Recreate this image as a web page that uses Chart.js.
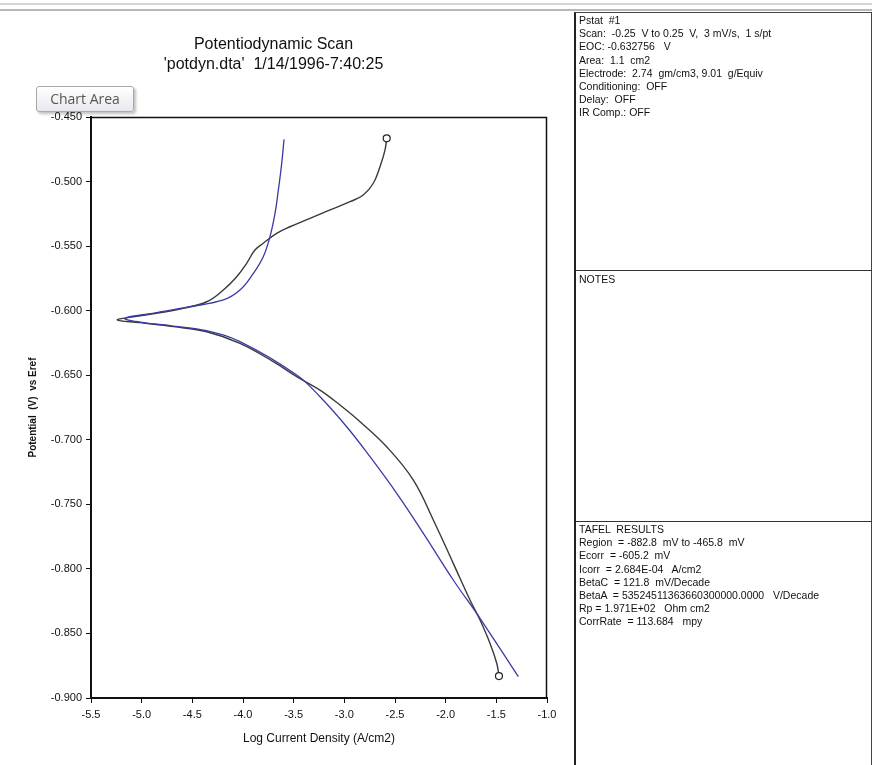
<!DOCTYPE html>
<html>
<head>
<meta charset="utf-8">
<script src="https://cdn.jsdelivr.net/npm/chart.js@4.4.1/dist/chart.umd.min.js"></script>
<style>
  body { margin: 0; background: #fff; font-family: "Liberation Sans", Arial, sans-serif; }
  #wrap { position: relative; width: 872px; height: 765px; overflow: hidden; background: #fff; }
  #topbar1 { position: absolute; left: 0; top: 3px; width: 872px; height: 2px; background: #d4d4d4; }
  #topbar2 { position: absolute; left: 0; top: 9px; width: 872px; height: 2px; background: #b8b8b8; }
  #cv { position: absolute; left: 0; top: 12px; }
  #panel { position: absolute; left: 574px; top: 12px; width: 295px; height: 753px;
           border-left: 2px solid #222; border-right: 1px solid #444; border-top: 1px solid #444; }
  .box { position: absolute; left: 0; width: 295px; font-size: 10.5px; line-height: 13.2px; color: #111;
         padding-left: 3px; white-space: pre; }
  #b1 { top: 1px; height: 256px; border-bottom: 1px solid #333; }
  #b2 { top: 258px; height: 248px; border-bottom: 1px solid #333; padding-top: 2px; }
  #b3 { top: 508px; padding-top: 2px; }
  #tip { position: absolute; left: 36px; top: 86px; width: 96px; height: 24px; border: 1px solid #a9a9a9;
         border-radius: 3px; background: linear-gradient(#ffffff, #e8e8ee); box-shadow: 2px 2px 3px rgba(0,0,0,0.25);
         font-family: "Open Sans", "DejaVu Sans", sans-serif; font-size: 14px; color: #575757; text-align: center; line-height: 24px; }
</style>
</head>
<body>
<div id="wrap">
  <div id="topbar1"></div>
  <div id="topbar2"></div>
  <canvas id="cv" width="575" height="753"></canvas>
  <div id="panel">
    <div class="box" id="b1"></div>
    <div class="box" id="b2"></div>
    <div class="box" id="b3"></div>
  </div>
  <div id="tip">Chart Area</div>
</div>
<script>
// measured curve (log current density, potential)
var medidoLogI = [-1.474, -1.496, -1.562, -1.661, -1.760, -1.925, -2.122, -2.319, -2.582, -2.845, -3.043, -3.240, -3.470, -3.701, -4.030, -4.358, -4.688, -5.016, -5.240, -5.083, -4.852, -4.589, -4.358, -4.194, -4.062, -3.964, -3.882, -3.800, -3.668, -3.536, -3.339, -3.141, -2.944, -2.813, -2.714, -2.648, -2.599, -2.582];
var medidoE = [-0.8830, -0.8731, -0.8577, -0.8396, -0.8241, -0.7957, -0.7621, -0.7312, -0.7054, -0.6860, -0.6731, -0.6615, -0.6511, -0.6395, -0.6253, -0.6163, -0.6124, -0.6093, -0.6072, -0.6047, -0.6020, -0.5982, -0.5931, -0.5840, -0.5737, -0.5633, -0.5530, -0.5478, -0.5401, -0.5350, -0.5285, -0.5220, -0.5156, -0.5104, -0.5013, -0.4885, -0.4756, -0.4665];

// tafel fit curve
var ajusteLogI = [-1.283, -1.661, -1.925, -2.220, -2.483, -2.747, -2.977, -3.240, -3.470, -4.030, -4.358, -4.688, -5.016, -5.164, -4.852, -4.523, -4.194, -4.030, -3.898, -3.800, -3.734, -3.684, -3.651, -3.618, -3.595];
var ajusteE = [-0.8835, -0.8383, -0.8086, -0.7725, -0.7415, -0.7131, -0.6899, -0.6667, -0.6498, -0.6240, -0.6155, -0.6119, -0.6088, -0.6059, -0.6016, -0.5969, -0.5917, -0.5840, -0.5711, -0.5582, -0.5427, -0.5246, -0.5065, -0.4859, -0.4673];

var tituloGrafico = ["Potentiodynamic Scan", "'potdyn.dta'  1/14/1996-7:40:25"];
var tituloX = 'Log Current Density (A/cm2)';
var tituloY = 'Potential  (V)  vs Eref';

var textoSetup = [
  'Pstat  #1',
  'Scan:  -0.25  V to 0.25  V,  3 mV/s,  1 s/pt',
  'EOC: -0.632756   V',
  'Area:  1.1  cm2',
  'Electrode:  2.74  gm/cm3, 9.01  g/Equiv',
  'Conditioning:  OFF',
  'Delay:  OFF',
  'IR Comp.: OFF'
];
var textoNotas = ['NOTES'];
var textoTafel = [
  'TAFEL  RESULTS',
  'Region  = -882.8  mV to -465.8  mV',
  'Ecorr  = -605.2  mV',
  'Icorr  = 2.684E-04   A/cm2',
  'BetaC  = 121.8  mV/Decade',
  'BetaA  = 53524511363660300000.0000   V/Decade',
  'Rp = 1.971E+02   Ohm cm2',
  'CorrRate  = 113.684   mpy'
];

document.getElementById('b1').textContent = textoSetup.join('\n');
document.getElementById('b2').textContent = textoNotas.join('\n');
document.getElementById('b3').textContent = textoTafel.join('\n');

function pontos(xs, ys) {
  var r = [];
  for (var i = 0; i < xs.length; i++) r.push({ x: xs[i], y: ys[i] });
  return r;
}

// moldura superior e direita da area do grafico
var moldura = {
  id: 'moldura',
  afterDraw: function (chart) {
    var a = chart.chartArea, ctx = chart.ctx;
    ctx.save();
    ctx.strokeStyle = '#111';
    ctx.lineWidth = 1.5;
    ctx.beginPath();
    ctx.moveTo(a.left, a.top + 0.5);
    ctx.lineTo(a.right - 0.5, a.top + 0.5);
    ctx.lineTo(a.right - 0.5, a.bottom);
    ctx.stroke();
    ctx.restore();
  }
};

var fonteTick = { family: 'Liberation Sans', size: 11 };

new Chart(document.getElementById('cv'), {
  type: 'scatter',
  data: {
    datasets: [
      {
        label: 'Ajuste',
        data: pontos(ajusteLogI, ajusteE),
        showLine: true,
        borderColor: '#3a3aa6',
        borderWidth: 1.3,
        pointRadius: 0,
        tension: 0.4
      },
      {
        label: 'Medido',
        data: pontos(medidoLogI, medidoE),
        showLine: true,
        borderColor: '#3a3a3a',
        borderWidth: 1.4,
        backgroundColor: '#fff',
        pointBorderColor: '#222',
        pointBorderWidth: 1.2,
        pointRadius: function (c) {
          return (c.dataIndex === 0 || c.dataIndex === medidoLogI.length - 1) ? 3.5 : 0;
        },
        tension: 0.4
      }
    ]
  },
  options: {
    responsive: false,
    animation: false,
    devicePixelRatio: 1,
    layout: { padding: { top: 0, right: 28, bottom: 12, left: 0 } },
    plugins: {
      legend: { display: false },
      tooltip: { enabled: false },
      title: {
        display: true,
        text: tituloGrafico,
        color: '#111',
        font: { family: 'Liberation Sans', size: 16, weight: 'normal', lineHeight: 1.25 },
        padding: { top: 23, bottom: 42 }
      }
    },
    scales: {
      x: {
        type: 'linear',
        min: -5.5,
        max: -1.0,
        afterFit: function (s) { s.height = 55; },
        ticks: {
          stepSize: 0.5,
          color: '#111',
          font: fonteTick,
          padding: 5,
          maxRotation: 0,
          callback: function (v) { return v.toFixed(1); }
        },
        grid: { drawOnChartArea: false, drawTicks: true, tickLength: 5, color: '#111' },
        border: { color: '#111', width: 2 },
        title: {
          display: true,
          text: tituloX,
          color: '#111',
          font: { family: 'Liberation Sans', size: 12 },
          padding: { top: 0, bottom: 7 }
        }
      },
      y: {
        type: 'linear',
        min: -0.9,
        max: -0.45,
        afterFit: function (s) { s.width = 91; },
        ticks: {
          stepSize: 0.05,
          color: '#111',
          font: fonteTick,
          padding: 4,
          callback: function (v) { return v.toFixed(3); }
        },
        grid: { drawOnChartArea: false, drawTicks: true, tickLength: 5, color: '#111' },
        border: { color: '#111', width: 2 },
        title: {
          display: true,
          text: tituloY,
          color: '#111',
          font: { family: 'Liberation Sans', size: 10, weight: 'bold' },
          padding: { top: 27, bottom: 0 }
        }
      }
    }
  },
  plugins: [moldura]
});
</script>
</body>
</html>
